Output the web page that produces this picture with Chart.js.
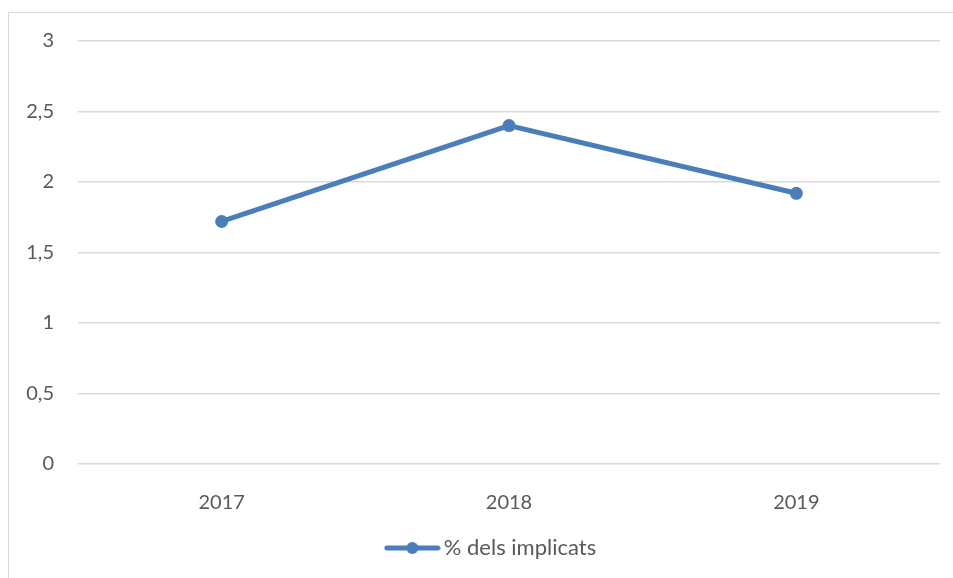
<!DOCTYPE html>
<html>
<head>
<meta charset="utf-8">
<script src="https://cdn.jsdelivr.net/npm/chart.js@4/dist/chart.umd.min.js"></script>
<style>
  html, body { margin: 0; padding: 0; background: #fff; overflow: hidden; }
  .frame { position: absolute; left: 8px; top: 12px; width: 1000px; height: 700px; border: 1px solid #d9d9d9; }
  .wrap { position: absolute; left: 0; top: 0; width: 953px; height: 578px; }
</style>
</head>
<body>
<div class="frame"></div>
<div class="wrap"><canvas class="jsChart"></canvas></div>
<script>
var years = ["2017", "2018", "2019"];
var implicats = [1.72, 2.40, 1.92];
var seriesName = "% dels implicats";

var blue = "#4a7ebb";

function legendMark() {
  var c = document.createElement("canvas");
  c.width = 57; c.height = 14;
  var g = c.getContext("2d");
  g.strokeStyle = blue; g.lineWidth = 5; g.lineCap = "round";
  g.beginPath(); g.moveTo(3, 7); g.lineTo(54, 7); g.stroke();
  g.fillStyle = blue;
  g.beginPath(); g.arc(28.5, 7, 6, 0, Math.PI * 2); g.fill();
  return c;
}

// nudge the legend to the right, like the original sits
var legendShift = {
  id: "legendShift",
  afterLayout: function (chart) {
    if (chart.legend) { chart.legend.left += 24; chart.legend.right += 24; }
  }
};

Chart.defaults.font.family = "Lato, 'Open Sans', sans-serif";
Chart.defaults.color = "#595959";

new Chart(document.querySelector(".jsChart"), {
  type: "line",
  data: {
    labels: years,
    datasets: [{
      label: seriesName,
      data: implicats,
      borderColor: blue,
      backgroundColor: blue,
      borderWidth: 5,
      pointRadius: 6.5,
      pointHoverRadius: 6.5,
      pointBackgroundColor: blue,
      pointBorderWidth: 0,
      pointStyle: "circle",
      tension: 0
    }]
  },
  plugins: [legendShift],
  options: {
    responsive: true,
    maintainAspectRatio: false,
    animation: false,
    layout: { padding: { left: 0, right: 13, top: 41, bottom: 9 } },
    plugins: {
      tooltip: { enabled: false },
      legend: {
        display: true,
        position: "bottom",
        labels: {
          usePointStyle: true,
          pointStyle: legendMark(),
          pointStyleWidth: 41,
          padding: 10,
          font: { size: 22 },
          color: "#595959"
        }
      }
    },
    scales: {
      x: {
        offset: true,
        grid: { display: false },
        border: { display: false },
        ticks: { padding: 19, font: { size: 20 } },
        afterFit: function (s) { s.height = 63; }
      },
      y: {
        min: 0,
        max: 3,
        ticks: {
          stepSize: 0.5,
          padding: 24,
          font: { size: 20 },
          callback: function (v) { return String(v).replace(".", ","); }
        },
        grid: { color: "#d9d9d9", lineWidth: 1.5, drawTicks: false },
        border: { display: false },
        afterFit: function (s) { s.width = 78; }
      }
    }
  }
});
</script>
</body>
</html>
